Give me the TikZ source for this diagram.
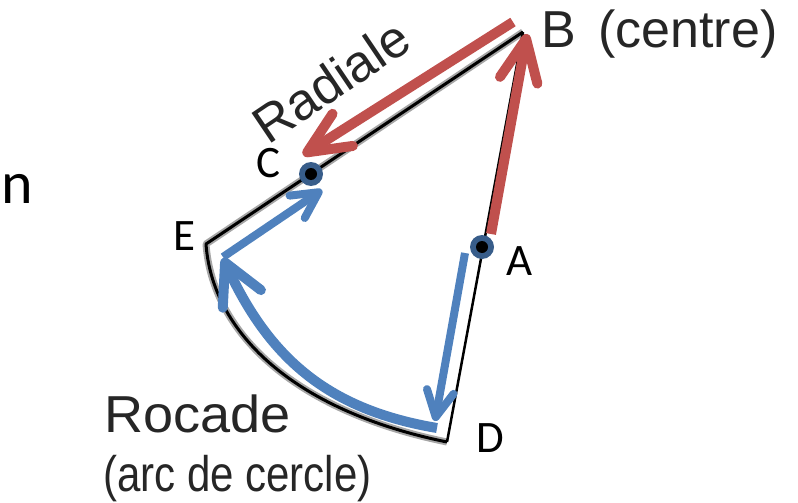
\documentclass[tikz,border=0pt]{standalone}
\usepackage{fontspec}
\setmainfont{Carlito}
\newfontfamily\pixfont{Liberation Sans}
\usetikzlibrary{arrows.meta}
\definecolor{rred}{RGB}{192,80,77}
\definecolor{bblue}{RGB}{79,129,189}
\definecolor{navy}{RGB}{56,93,138}
\begin{document}
\begin{tikzpicture}[x=1pt,y=-1pt,
  lbl/.style={font=\fontsize{45}{45}\selectfont, anchor=base, inner sep=0pt},
  pix/.style={font=\pixfont\fontsize{52}{52}\selectfont, text=black!85, inner sep=0pt, anchor=base west},
  halo/.style={line width=7pt, black!35, line join=round},
  core/.style={line width=3pt, black, line join=round},
  redarrow/.style={rred, line width=10pt, -{Straight Barb[length=42pt,width=38pt,round]}},
  bluearrow/.style={bblue, line width=8pt, -{Straight Barb[length=26pt,width=27pt,round]}},
  bigblue/.style={bblue, line width=10pt, -{Straight Barb[length=40pt,width=42pt,round]}},
  ring/.style={circle, fill=navy, minimum size=24pt, inner sep=0pt},
  pin/.style={circle, fill=black, minimum size=12pt, inner sep=0pt}
]
\useasboundingbox (0,0) rectangle (798,503);
% geometry points
\coordinate (B) at (523,32);
\coordinate (E) at (206,244);
\coordinate (D) at (447,442);
\coordinate (C) at (311,174);
\coordinate (A) at (482,247);
% black construction lines
\draw[halo] (B) -- (E) .. controls (212,330) and (290,410) .. (D);
\draw[core] (B) -- (E) .. controls (212,330) and (290,410) .. (D);
\draw[line width=2.5pt] (B) -- (D);
% blue arrows
\coordinate (b1s) at (465,253); \coordinate (b1e) at (435,421);
\draw[bluearrow] (b1s) -- (b1e);
\coordinate (b2s) at (437,428); \coordinate (b2e) at (223,258);
\draw[bigblue] (b2s) .. controls (330,410) and (270,360) .. (b2e);
\coordinate (b3s) at (223,257); \coordinate (b3e) at (322,190);
\draw[bluearrow] (b3s) -- (b3e);
% red arrows
\coordinate (r1s) at (513,22); \coordinate (r1e) at (303,155);
\draw[redarrow] (r1s) -- (r1e);
\coordinate (r2s) at (491,234); \coordinate (r2e) at (527,34);
\draw[redarrow] (r2s) -- (r2e);
% points
\node[ring] (Cr) at (C) {}; \node[pin] (Cp) at (C) {};
\node[ring] (Ar) at (A) {}; \node[pin] (Ap) at (A) {};
% labels
\node[lbl] (lC) at (268,177) {C};
\node[lbl] (lE) at (184,250) {E};
\node[lbl] (lA) at (520,275) {A};
\node[lbl] (lD) at (490,452) {D};
\node[lbl, font=\fontsize{60}{60}\selectfont] (ln) at (17,203) {n};
\node[pix] (lB) at (541,48) {B\hspace{8pt} (centre)};
\node[pix, rotate=34] (rad) at (268,146) {Radiale};
\node[pix] (roc) at (104,432) {\scalebox{1.04}[1]{Rocade}};
\node[pix, font=\pixfont\fontsize{50}{50}\selectfont] (arc) at (103,491) {\scalebox{0.84}[1]{(arc de cercle)}};
\end{tikzpicture}
\end{document}
